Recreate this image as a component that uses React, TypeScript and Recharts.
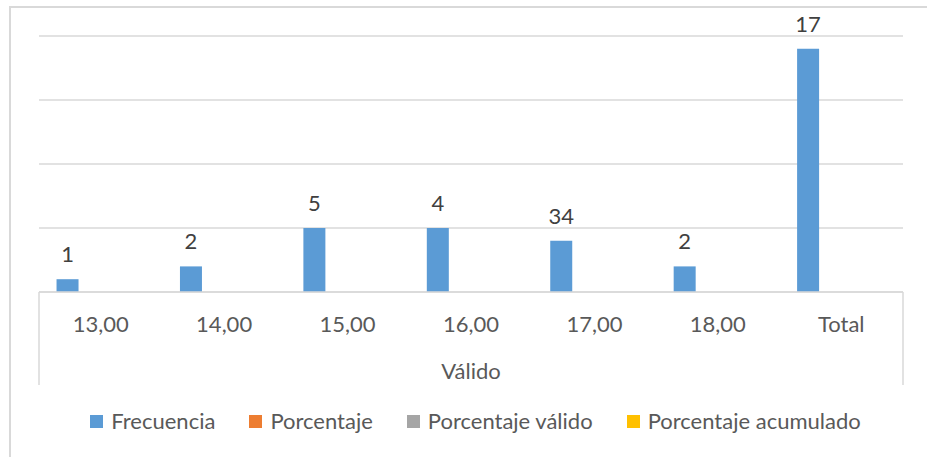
import React from 'react';
import { BarChart, Bar, XAxis, YAxis, CartesianGrid, Legend, LabelList } from 'recharts';

// datos
const categorias = ['13,00', '14,00', '15,00', '16,00', '17,00', '18,00', 'Total'];
const frecuencia = [1, 2, 5, 5, 4, 2, 19];
const porcentaje = [0, 0, 0, 0, 0, 0, 0];
const porcentajeValido = [0, 0, 0, 0, 0, 0, 0];
const porcentajeAcumulado = [0, 0, 0, 0, 0, 0, 0];
const etiquetas = ['1', '2', '5', '4', '34', '2', '17'];
const grupo = 'Válido';
const yTicks = [0, 5, 10, 15, 20];

const series = [
  { key: 'Frecuencia', color: '#5b9bd5' },
  { key: 'Porcentaje', color: '#ed7d31' },
  { key: 'Porcentaje válido', color: '#a5a5a5' },
  { key: 'Porcentaje acumulado', color: '#ffc000' },
];

const data = categorias.map((c, i) => ({
  categoria: c,
  grupo,
  etiqueta: etiquetas[i],
  Frecuencia: frecuencia[i],
  Porcentaje: porcentaje[i],
  'Porcentaje válido': porcentajeValido[i],
  'Porcentaje acumulado': porcentajeAcumulado[i],
}));

const FONT = 'Lato, "Noto Sans", sans-serif';
const GRIS = '#d9d9d9';
const H1 = 55;

const CategoriaTick = (props: any) => {
  const { x, y, payload } = props;
  return (
    <text x={x} y={y + 31} textAnchor="middle" dominantBaseline="central"
      fontFamily={FONT} fontSize={22} fill="#595959">
      {payload.value}
    </text>
  );
};

const GrupoTick = (props: any) => {
  const { x, y, payload } = props;
  const half = payload.offset ?? 0;
  return (
    <g>
      <line x1={x - half} x2={x - half} y1={y - H1} y2={y + 38} stroke={GRIS} strokeWidth={1.5} />
      <line x1={x + half} x2={x + half} y1={y - H1} y2={y + 38} stroke={GRIS} strokeWidth={1.5} />
      <text x={x} y={y + 23} textAnchor="middle" dominantBaseline="central"
        fontFamily={FONT} fontSize={22} fill="#595959">
        {payload.value}
      </text>
    </g>
  );
};

const Leyenda = () => (
  <div style={{ display: 'flex', justifyContent: 'center', paddingLeft: 24, fontFamily: FONT, fontSize: 22, color: '#595959', lineHeight: '26px' }}>
    {series.map((s) => (
      <div key={s.key} style={{ display: 'flex', alignItems: 'center', margin: '0 17px' }}>
        <span style={{ width: 13, height: 13, background: s.color, marginRight: 8 }} />
        <span>{s.key}</span>
      </div>
    ))}
  </div>
);

export default function App() {
  return (
    <div style={{ position: 'absolute', left: 0, top: 0, width: 927, height: 457, overflow: 'hidden', background: '#fff' }}>
      <div style={{ position: 'absolute', left: 9, top: 6, width: 940, height: 470, border: `2px solid ${GRIS}`, boxSizing: 'border-box' }} />
      <BarChart
        width={927}
        height={457}
        data={data}
        margin={{ top: 36, right: 24, left: 39, bottom: 60 }}
        barCategoryGap="14.2%"
        barGap={0}
        style={{ position: 'absolute', left: 0, top: 0 }}
      >
        <CartesianGrid vertical={false} stroke={GRIS} strokeWidth={1.5} />
        <YAxis hide domain={[0, 20]} ticks={yTicks} />
        <XAxis dataKey="categoria" height={H1} tickLine={false} tickSize={0} tickMargin={0}
          axisLine={{ stroke: GRIS, strokeWidth: 1.5 }} tick={<CategoriaTick />} interval={0} />
        <XAxis xAxisId="grupo" dataKey="grupo" allowDuplicatedCategory={false} height={50}
          tickLine={false} tickSize={0} tickMargin={0} axisLine={false} tick={<GrupoTick />} interval={0} />
        <Legend verticalAlign="middle" align="center" content={<Leyenda />}
          wrapperStyle={{ left: 0, top: 408, width: 927 }} />
        {series.map((s, i) => (
          <Bar key={s.key} dataKey={s.key} fill={s.color} isAnimationActive={false}>
            {i === 0 && (
              <LabelList dataKey="etiqueta" position="top" offset={17}
                fontFamily={FONT} fontSize={22} fill="#404040" />
            )}
          </Bar>
        ))}
      </BarChart>
    </div>
  );
}
